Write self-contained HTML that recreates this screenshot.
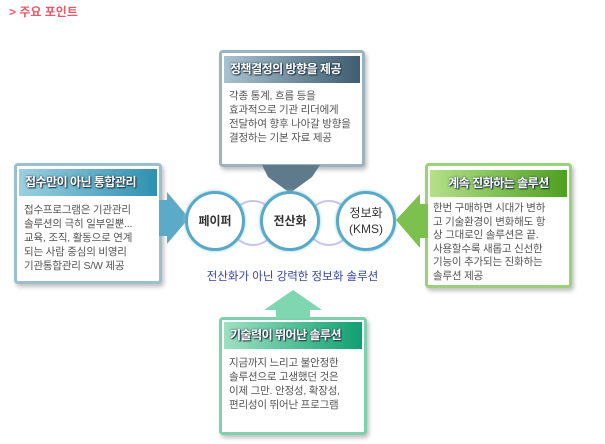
<!DOCTYPE html>
<html><head><meta charset="utf-8"><style>
body{margin:0;width:605px;height:444px;background:#fff;position:relative;overflow:hidden;font-family:"Liberation Sans","Noto Sans CJK KR",sans-serif}
.abs{position:absolute}
.box{position:absolute;background:#fff;border-radius:4px;box-shadow:2px 3px 4px rgba(0,0,0,.25)}
.hd{position:absolute;color:#fff;font-weight:bold;font-size:12px;line-height:27px;text-shadow:0 0 2px #234,1px 1px 1px #234;padding-left:6px;white-space:nowrap;letter-spacing:-0.5px;overflow:hidden}
.tx{position:absolute;font-size:10.5px;line-height:14px;color:#555;white-space:nowrap;letter-spacing:-0.2px}
.c{position:absolute;width:54px;height:54px;border-radius:50%;border:3px solid #5aa8c8;background:#fff;box-shadow:0 0 3px #8cc;display:flex;align-items:center;justify-content:center;text-align:center;font-size:12px;font-weight:bold;color:#333;line-height:16px}
.ring{position:absolute;width:42px;height:42px;border-radius:50%;border:2px solid #c8c4ee}
</style></head><body>
<div class="abs" style="left:9px;top:3px;color:#e85a6a;font-size:12px;font-weight:bold">&gt; 주요 포인트</div>

<div class="box" style="left:219px;top:50px;width:140px;height:111px;border:3px solid #9bb3bf"></div>
<div class="hd" style="left:224px;top:56px;width:130px;background:linear-gradient(90deg,#a9c2cf,#3e5d70)">정책결정의 방향을 제공</div>
<div class="tx" style="left:229px;top:89px">각종 통계, 흐름 등을<br>효과적으로 기관 리더에게<br>전달하여 향후 나아갈 방향을<br>결정하는 기본 자료 제공</div>
<svg class="abs" style="left:258px;top:165px" width="66" height="30"><polygon points="4,0 62,0 54,12 32,28 10,12" fill="#5e7a8b"/></svg>

<div class="box" style="left:14px;top:163px;width:142px;height:115px;border:3px solid #9cbfcc"></div>
<div class="hd" style="left:19px;top:169px;width:132px;background:linear-gradient(90deg,#9bd0e0,#2f90b0)">접수만이 아닌 통합관리</div>
<div class="tx" style="left:24px;top:203px">접수프로그램은 기관관리<br>솔루션의 극히 일부일뿐...<br>교육, 조직, 활동으로 연계<br>되는 사람 중심의 비영리<br>기관통합관리 S/W 제공</div>
<svg class="abs" style="left:159px;top:192px" width="32" height="56"><polygon points="0,8 8,8 8,0 30,26 8,52 8,44 0,44" fill="#5aaac8"/></svg>

<div class="ring" style="left:230px;top:200px"></div>
<div class="ring" style="left:306px;top:200px"></div>
<div class="c" style="left:185px;top:191px">페이퍼</div>
<div class="c" style="left:260px;top:191px">전산화</div>
<div class="c" style="left:336px;top:191px;font-weight:normal">정보화<br>(KMS)</div>
<div class="abs" style="left:195px;top:268px;width:195px;text-align:center;font-size:11.5px;color:#3a44a0">전산화가 아닌 강력한 정보화 솔루션</div>

<div class="box" style="left:425px;top:163px;width:141px;height:119px;border:3px solid #9dd07d"></div>
<div class="hd" style="left:430px;top:170px;width:137px;padding-left:0;background:linear-gradient(90deg,#b4e08a,#4ea020);text-align:center">계속 진화하는 솔루션</div>
<div class="tx" style="left:433px;top:202px;line-height:13.6px">한번 구매하면 시대가 변하<br>고 기술환경이 변화해도 항<br>상 그대로인 솔루션은 끝.<br>사용할수록 새롭고 신선한<br>기능이 추가되는 진화하는<br>솔루션 제공</div>
<svg class="abs" style="left:394px;top:192px" width="34" height="60"><polygon points="2,28 26,2 26,12 34,12 34,46 26,46 26,56" fill="#7cc050"/></svg>

<div class="box" style="left:219px;top:317px;width:142px;height:112px;border:3px solid #7fd0ac"></div>
<div class="hd" style="left:224px;top:322px;width:132px;background:linear-gradient(90deg,#9fe0c2,#10a070)">기술력이 뛰어난 솔루션</div>
<div class="tx" style="left:229px;top:356px">지금까지 느리고 불안정한<br>솔루션으로 고생했던 것은<br>이제 그만.  안정성, 확장성,<br>편리성이 뛰어난 프로그램</div>
<svg class="abs" style="left:260px;top:290px" width="66" height="28"><polygon points="33,0 62,20 50,20 50,28 16,28 16,20 4,20" fill="#7fd6b0"/></svg>
</body></html>
